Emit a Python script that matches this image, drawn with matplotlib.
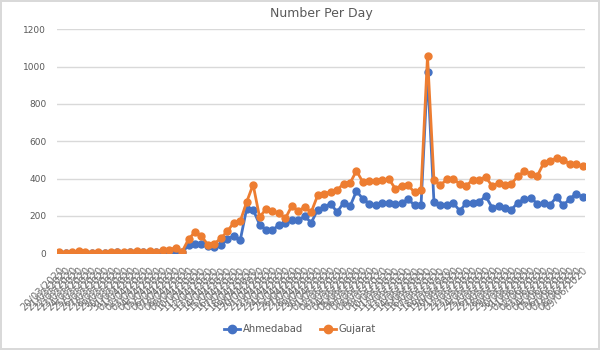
import matplotlib
matplotlib.use('Agg')
import matplotlib.pyplot as plt
import numpy as np
import pandas as pd

# valores (casos por dia)
ahmedabad = [1, 0, 2, 4, 1, 0, 1, 1, 2, 3, 2, 3, 6, 3, 4, 4, 8, 9, 13, 4,
             41, 50, 47, 36, 32, 41, 75, 92, 68, 238, 233, 153, 124, 124, 150, 163, 176, 176, 197, 163,
             233, 247, 265, 220, 269, 250, 333, 290, 265, 259, 270, 270, 265, 268, 288, 257, 257, 969,
             274, 260, 260, 269, 226, 269, 269, 274, 306, 244, 251, 240, 233, 271, 289, 295, 265, 269,
             260, 301, 256, 289, 319, 301]
gujarat = [3, 2, 4, 11, 3, 2, 3, 2, 4, 5, 4, 6, 13, 5, 11, 8, 18, 18, 29, 7,
           74, 113, 90, 45, 50, 79, 116, 163, 170, 274, 367, 193, 236, 227, 214, 186, 254, 226, 247, 220,
           310, 319, 328, 337, 373, 375, 441, 380, 385, 385, 390, 399, 346, 362, 364, 325, 340, 1056,
           390, 364, 396, 400, 369, 360, 394, 394, 408, 360, 376, 367, 373, 412, 439, 426, 414, 484,
           492, 510, 498, 480, 476, 466]
datas = list(pd.date_range('2020-03-20', periods=len(gujarat)).strftime('%d/%m/%Y'))

cinza = '#595959'
grade = '#D9D9D9'

fig = plt.figure(figsize=(6, 3.5), dpi=100, edgecolor=grade, linewidth=1.5)
ax = fig.add_axes([0.0957, 0.277, 0.880, 0.639])

x = np.arange(len(datas))
ax.plot(x, ahmedabad, color='#4472C4', marker='o', markersize=5, linewidth=2, label='Ahmedabad')
ax.plot(x, gujarat, color='#ED7D31', marker='o', markersize=5, linewidth=2, label='Gujarat')

ax.set_ylim(0, 1200)
ax.set_yticks(range(0, 1201, 200))
ax.set_xlim(-0.3, len(datas) - 0.55)
ax.set_xticks(x)
ax.set_xticklabels(datas, rotation=45, ha='right', va='top', rotation_mode='anchor',
                   fontsize=7.2, color='#707070')
ax.tick_params(axis='x', length=0, pad=9)
ax.tick_params(axis='y', length=0, pad=8, labelsize=6.5, labelcolor=cinza)

ax.grid(axis='y', color=grade, linewidth=1)
ax.set_axisbelow(True)
for s in ax.spines.values():
    s.set_visible(False)

ax.set_title('Number Per Day', fontsize=9, color=cinza, pad=9)
fig.legend(loc='center', bbox_to_anchor=(0.5, 0.06), ncol=2, frameon=False,
           fontsize=7.2, labelcolor=cinza, handlelength=1.6, handletextpad=0.3,
           columnspacing=1.6, markerscale=1.2)

fig.savefig('out.png', dpi=100, edgecolor=fig.get_edgecolor())
